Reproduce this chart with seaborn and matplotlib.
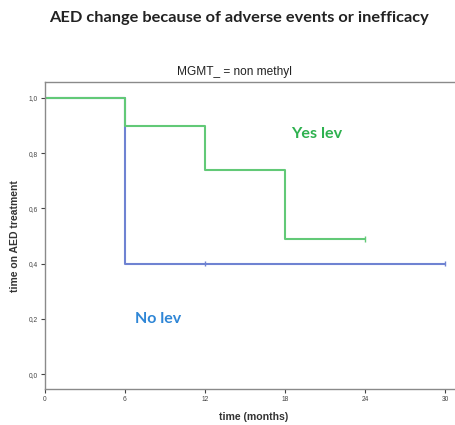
import matplotlib
matplotlib.use("Agg")
import matplotlib.pyplot as plt
import seaborn as sns
import pandas as pd

# Kaplan-Meier style step data (time in months, proportion still on AED)
yes_times = [0, 6, 12, 18, 24]
yes_surv = [1.0, 0.9, 0.74, 0.49, 0.49]
no_times = [0, 6, 30]
no_surv = [1.0, 0.4, 0.4]

# censored observations
yes_cens_t = [24]
yes_cens_s = [0.49]
no_cens_t = [12, 30]
no_cens_s = [0.4, 0.4]

x_ticks = [0, 6, 12, 18, 24, 30]
y_ticks = [0.0, 0.2, 0.4, 0.6, 0.8, 1.0]

green = "#62c977"
blue = "#6f83d2"

sns.set_theme(style="white")
plt.rcParams["font.family"] = ["Liberation Sans", "DejaVu Sans"]

W, H = 456, 425
fig = plt.figure(figsize=(W / 100, H / 100), dpi=100)
# axes frame runs past the right edge of the figure
left_px, right_px, top_px, bot_px = 45, 472, 82, 389
ax = fig.add_axes([left_px / W, 1 - bot_px / H,
                   (right_px - left_px) / W, (bot_px - top_px) / H])

df = pd.concat([
    pd.DataFrame({"t": no_times, "s": no_surv, "grp": "No lev"}),
    pd.DataFrame({"t": yes_times, "s": yes_surv, "grp": "Yes lev"}),
])
sns.lineplot(data=df, x="t", y="s", hue="grp", palette={"No lev": blue, "Yes lev": green},
             drawstyle="steps-post", linewidth=1.5, legend=False, ax=ax, estimator=None)

cens = pd.concat([
    pd.DataFrame({"t": no_cens_t, "s": no_cens_s, "grp": "No lev"}),
    pd.DataFrame({"t": yes_cens_t, "s": yes_cens_s, "grp": "Yes lev"}),
])
sns.scatterplot(data=cens, x="t", y="s", hue="grp", palette={"No lev": blue, "Yes lev": green},
                marker="|", s=16, linewidth=1.0, legend=False, ax=ax)

ax.set_xlim(0, (right_px - left_px) / (80 / 6))
ax.set_ylim(-0.054, 1.058)
ax.set_xticks(x_ticks)
ax.set_yticks(y_ticks)
ax.set_xticklabels([str(v) for v in x_ticks])
ax.set_yticklabels([f"{v:.1f}".replace(".", ",") for v in y_ticks])
ax.tick_params(axis="both", labelsize=4.8, colors="#444444", length=3, width=0.8,
               direction="out", pad=2)
ax.tick_params(axis="both", which="both", bottom=True, left=True)
for side in ["left", "bottom", "top"]:
    ax.spines[side].set_color("#8a8a8a")
    ax.spines[side].set_linewidth(1.0)
ax.spines["right"].set_visible(False)
ax.set_xlabel("")
ax.set_ylabel("")

ax.text(20.4, 0.87, "Yes lev", color="#2eb14f", fontsize=11.6, fontweight="bold",
        family=["Lato", "DejaVu Sans"], ha="center", va="center")
ax.text(8.5, 0.2, "No lev", color="#2f86d6", fontsize=11.5, fontweight="bold",
        family=["Lato", "DejaVu Sans"], ha="center", va="center")

fig.text(239 / W, 1 - 18 / H, "AED change because of adverse events or inefficacy",
         fontsize=11.8, fontweight="bold", family=["Lato", "DejaVu Sans"],
         ha="center", va="center", color="#222222")
fig.text(234 / W, 1 - 72 / H, "MGMT_ = non methyl", fontsize=8.6,
         ha="center", va="center", color="#222222")
fig.text(254 / W, 1 - 417 / H, "time (months)", fontsize=7.6, fontweight="bold",
         ha="center", va="center", color="#333333")
fig.text(15 / W, 1 - 236 / H, "time on AED treatment", fontsize=7.5, fontweight="bold",
         rotation=90, ha="center", va="center", color="#333333")

fig.savefig("out.png", dpi=100)
